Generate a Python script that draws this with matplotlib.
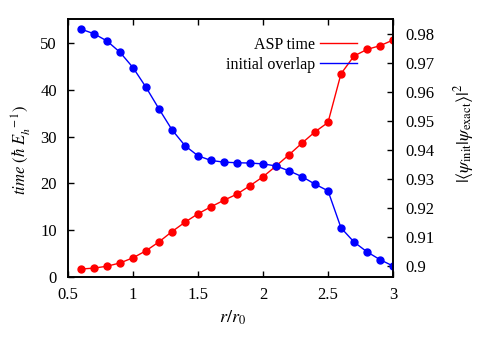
import matplotlib
matplotlib.use("Agg")
import matplotlib.pyplot as plt
from matplotlib.legend_handler import HandlerLine2D

plt.rcParams['font.family'] = ['Liberation Serif', 'DejaVu Serif']
plt.rcParams['mathtext.fontset'] = 'stix'
plt.rcParams['font.size'] = 12

# data
r = [0.6, 0.7, 0.8, 0.9, 1.0, 1.1, 1.2, 1.3, 1.4, 1.5, 1.6, 1.7, 1.8,
     1.9, 2.0, 2.1, 2.2, 2.3, 2.4, 2.5, 2.6, 2.7, 2.8, 2.9, 3.0]
asp_time = [1.7, 1.9, 2.3, 3.0, 4.1, 5.6, 7.5, 9.7, 11.7, 13.5, 15.0, 16.4, 17.7,
            19.5, 21.4, 23.7, 26.1, 28.6, 31.0, 33.0, 43.4, 47.2, 48.6, 49.4, 50.6]
overlap = [0.9818, 0.9802, 0.9777, 0.9738, 0.9685, 0.9617, 0.9542, 0.9470, 0.9415,
           0.9380, 0.9364, 0.9358, 0.9356, 0.9355, 0.9352, 0.9345, 0.9328, 0.9308,
           0.9282, 0.9259, 0.9131, 0.9082, 0.9048, 0.9021, 0.8999]

fig = plt.figure(figsize=(4.91, 3.43), dpi=100)
ax = fig.add_axes([68/491, 1-277/343, (393-68)/491, (277-19)/343])
ax2 = ax.twinx()

l1, = ax.plot(r, asp_time, '-o', color='#ff0000', lw=1.0, ms=5, label='ASP time')
l2, = ax2.plot(r, overlap, '-o', color='#0000ff', lw=1.0, ms=5, label='initial overlap')

ax.set_xlim(0.5, 3)
ax.set_ylim(0, 55.1)
ax2.set_ylim(0.8961, 0.9853)
ax.set_xticks([0.5, 1, 1.5, 2, 2.5, 3])
ax.set_xticklabels(['0.5', '1', '1.5', '2', '2.5', '3'])
ax.set_yticks([0, 10, 20, 30, 40, 50])
ax2.set_yticks([0.9, 0.91, 0.92, 0.93, 0.94, 0.95, 0.96, 0.97, 0.98])
ax2.set_yticklabels(['0.9', '0.91', '0.92', '0.93', '0.94', '0.95', '0.96', '0.97', '0.98'])

ax.tick_params(axis='x', direction='in', top=True, length=4, width=1, pad=7)
ax.tick_params(axis='y', direction='in', length=4, width=1, pad=8)
ax2.tick_params(axis='y', direction='in', length=4, width=1, pad=9)
for a in (ax, ax2):
    for s in a.spines.values():
        s.set_linewidth(1.2)

ax.set_xlabel(r'$r/r_0$', fontsize=13)
ax.xaxis.set_label_coords((232-68)/325, -(309-277)/258)
ax.set_ylabel(r'$\mathit{time}\ (\hbar\ E_h^{\ -1})$', fontsize=12)
ax.yaxis.set_label_coords(-(68-33)/325, (277-150)/258)
ax2.set_ylabel(r'$|\langle\psi_{\rm init}|\psi_{\rm exact}\rangle|^2$', fontsize=13)
ax2.yaxis.set_label_coords((452-68)/325, (277-133)/258)

leg = fig.legend(handles=[l1, l2], labels=['ASP time', 'initial overlap'],
                 loc='upper right', bbox_to_anchor=(357/491, 1-37/343),
                 frameon=False, markerfirst=False, handlelength=2.3, fontsize=11.5,
                 handletextpad=0.35, labelspacing=0.25, borderpad=0, borderaxespad=0,
                 handler_map={l1: HandlerLine2D(marker_pad=0)})
for h in leg.legend_handles:
    h.set_marker('')

fig.savefig('out.png', dpi=100)
